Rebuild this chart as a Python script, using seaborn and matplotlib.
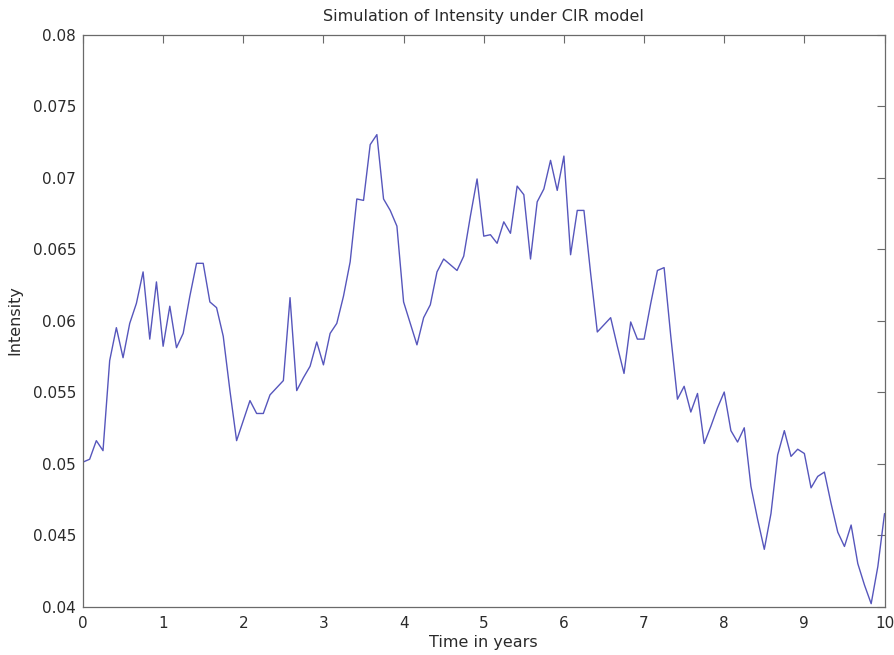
import numpy as np
import pandas as pd
import matplotlib
matplotlib.use("Agg")
import matplotlib.pyplot as plt
import seaborn as sns
from matplotlib.ticker import FuncFormatter

# Monthly time grid over 10 years (121 samples)
months = list(range(121))
intensity = [
    0.0501, 0.0503, 0.0516, 0.0509, 0.0572, 0.0595, 0.0574, 0.0598, 0.0612, 0.0634,
    0.0587, 0.0627, 0.0582, 0.0610, 0.0581, 0.0591, 0.0617, 0.0640, 0.0640, 0.0613,
    0.0609, 0.0589, 0.0551, 0.0516, 0.0530, 0.0544, 0.0535, 0.0535, 0.0548, 0.0553,
    0.0558, 0.0616, 0.0551, 0.0560, 0.0568, 0.0585, 0.0569, 0.0591, 0.0598, 0.0617,
    0.0641, 0.0685, 0.0684, 0.0723, 0.0730, 0.0685, 0.0677, 0.0666, 0.0613, 0.0598,
    0.0583, 0.0602, 0.0611, 0.0634, 0.0643, 0.0639, 0.0635, 0.0645, 0.0673, 0.0699,
    0.0659, 0.0660, 0.0654, 0.0669, 0.0661, 0.0694, 0.0688, 0.0643, 0.0683, 0.0692,
    0.0712, 0.0691, 0.0715, 0.0646, 0.0677, 0.0677, 0.0633, 0.0592, 0.0597, 0.0602,
    0.0582, 0.0563, 0.0599, 0.0587, 0.0587, 0.0612, 0.0635, 0.0637, 0.0589, 0.0545,
    0.0554, 0.0536, 0.0549, 0.0514, 0.0526, 0.0539, 0.0550, 0.0523, 0.0515, 0.0525,
    0.0484, 0.0461, 0.0440, 0.0465, 0.0506, 0.0523, 0.0505, 0.0510, 0.0507, 0.0483,
    0.0491, 0.0494, 0.0472, 0.0452, 0.0442, 0.0457, 0.0430, 0.0415, 0.0402, 0.0428,
    0.0465,
]
x_ticks = [0, 1, 2, 3, 4, 5, 6, 7, 8, 9, 10]
y_ticks = [0.04, 0.045, 0.05, 0.055, 0.06, 0.065, 0.07, 0.075, 0.08]

title = "Simulation of Intensity under CIR model"
xlabel = "Time in years"
ylabel = "Intensity"

df = pd.DataFrame({"t": [m / 12 for m in months], "lam": intensity})

sns.set_style("white")
plt.rcParams["font.family"] = ["DejaVu Sans"]

fig = plt.figure(figsize=(8.95, 6.55), dpi=100)
ax = fig.add_axes([0.0927, 0.074, 0.8956, 0.8733])

sns.lineplot(data=df, x="t", y="lam", ax=ax, color="#5656bc", linewidth=1.0)

ax.set_xlim(0, 10)
ax.set_ylim(0.04, 0.08)
ax.set_xticks(x_ticks)
ax.set_yticks(y_ticks)
ax.yaxis.set_major_formatter(FuncFormatter(lambda v, p: f"{v:g}"))

edge = "#6a6a6a"
for s in ax.spines.values():
    s.set_visible(True)
    s.set_color(edge)
    s.set_linewidth(0.9)
ax.tick_params(axis="both", direction="in", length=6, width=0.8, color=edge,
               top=True, right=True, labelsize=11, labelcolor="#2a2a2a")
ax.tick_params(axis="x", pad=6.5)
ax.tick_params(axis="y", pad=5)

ax.set_title(title, fontsize=11.5, color="#2a2a2a", pad=10)
ax.set_xlabel(xlabel, fontsize=11.5, color="#2a2a2a", labelpad=3)
ax.set_ylabel(ylabel, fontsize=11.5, color="#2a2a2a", labelpad=7)

fig.savefig("out.png", dpi=100)
